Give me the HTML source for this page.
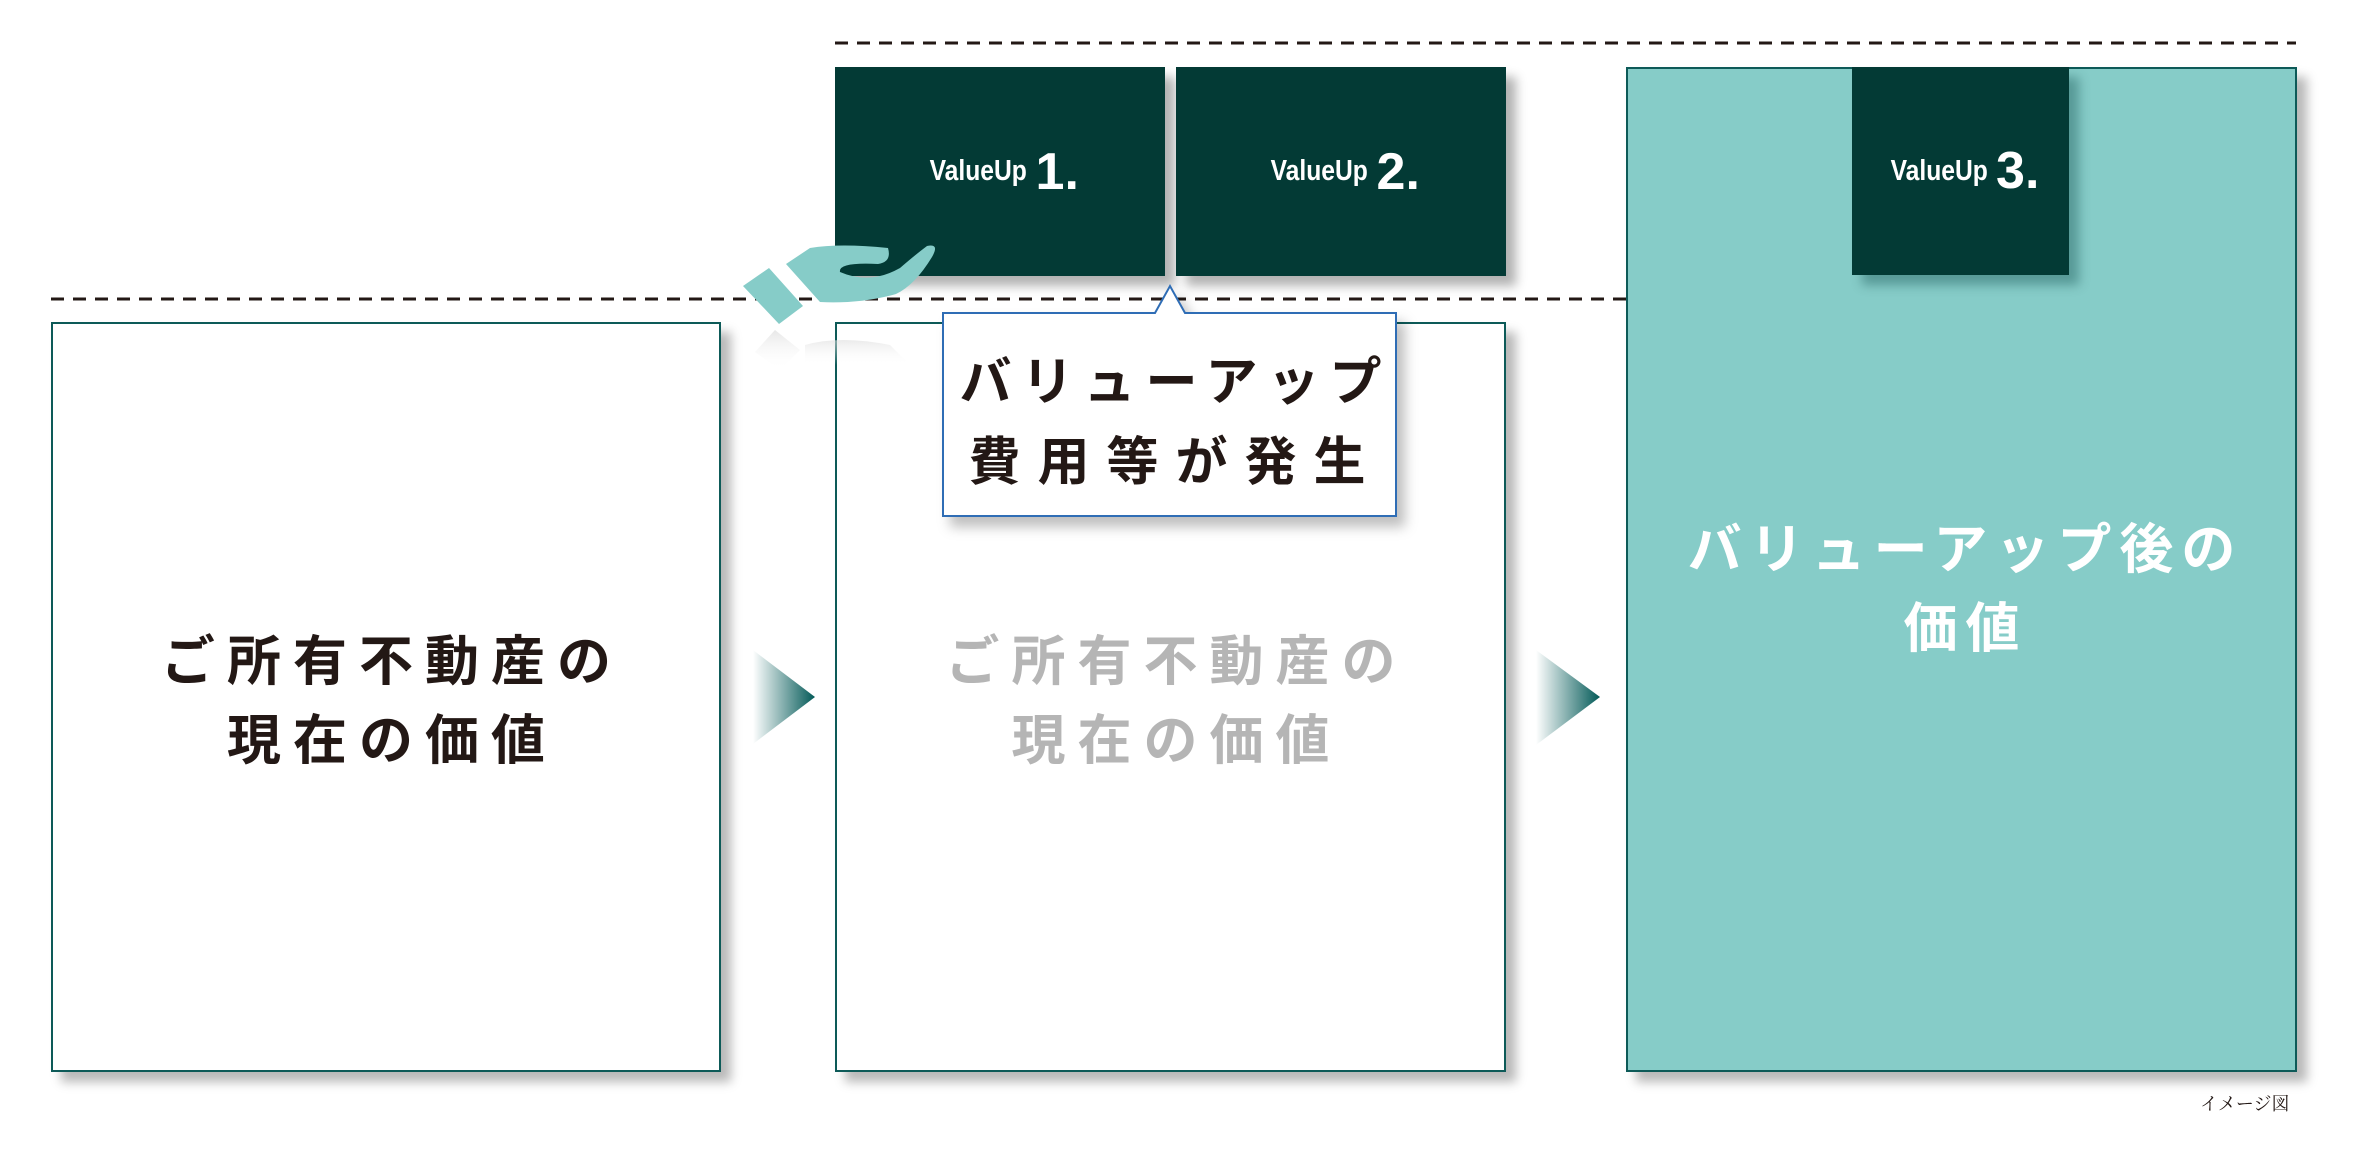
<!DOCTYPE html>
<html><head><meta charset="utf-8"><style>
body{margin:0;width:2360px;height:1151px;background:#fff;position:relative;overflow:hidden;font-family:"Liberation Sans","Noto Sans CJK JP",sans-serif}
.a{position:absolute;box-sizing:border-box}
.box{border:2px solid #0d5a58;background:#fff;box-shadow:10px 10px 10px rgba(0,0,0,0.28)}
.vu{background:#033a35;box-shadow:10px 10px 10px rgba(0,0,0,0.3);color:#fff;display:flex;align-items:center;justify-content:center}
.vu .s{font-size:29px;font-weight:bold;transform:scaleX(0.85);display:inline-block;margin-right:0px}
.vu .n{font-size:52px;font-weight:bold}
.t{position:absolute;text-align:center;font-weight:bold;font-family:"Noto Sans CJK JP",sans-serif;letter-spacing:12px;line-height:79px}
</style></head><body>

<div class="a box" style="left:51px;top:322px;width:670px;height:750px"></div>
<div class="t" style="left:51px;top:617px;width:682px;font-size:54px;color:#231815">ご所有不動産の<br>現在の価値</div>

<div class="a box" style="left:835px;top:322px;width:671px;height:750px"></div>
<div class="t" style="left:835px;top:617px;width:683px;font-size:54px;color:#b5b5b5">ご所有不動産の<br>現在の価値</div>

<div class="a box" style="left:1626px;top:67px;width:671px;height:1005px;background:#86ccc8"></div>
<div class="t" style="left:1626px;top:505px;width:679px;font-size:54px;color:#fff;letter-spacing:8px">バリューアップ後の<br>価値</div>

<div class="a vu" style="left:835px;top:67px;width:330px;height:209px"><span class="s">ValueUp</span><span class="n">1.</span></div>
<div class="a vu" style="left:1176px;top:67px;width:330px;height:209px"><span class="s">ValueUp</span><span class="n">2.</span></div>
<div class="a vu" style="left:1852px;top:67px;width:217px;height:208px;box-shadow:10px 10px 10px rgba(0,60,60,0.35)"><span class="s">ValueUp</span><span class="n">3.</span></div>

<svg class="a" style="left:0;top:0" width="2360" height="1151">
<defs>
<linearGradient id="g" x1="0" x2="1"><stop offset="0" stop-color="#035a58" stop-opacity="0"/><stop offset="1" stop-color="#035a58"/></linearGradient>
<linearGradient id="r" x1="0" y1="0" x2="0" y2="1"><stop offset="0" stop-color="#ddd"/><stop offset="1" stop-color="#fff" stop-opacity="0"/></linearGradient>
</defs>
<line x1="835" y1="43" x2="2296" y2="43" stroke="#231815" stroke-width="3" stroke-dasharray="13 9"/>
<line x1="51" y1="299" x2="1626" y2="299" stroke="#231815" stroke-width="3" stroke-dasharray="13 9"/>
<polygon points="753,650 815,697 753,744" fill="url(#g)"/>
<polygon points="1536,650 1600,697 1536,745" fill="url(#g)"/>
<!-- hand -->
<polygon points="743,286 769,268 803,306 779,324" fill="#86ccc8"/>
<path d="M786,264 L810,248 Q840,243 888,248 Q892,262 878,264 Q838,262 840,272 Q870,285 900,268 Q915,255 927,246 Q940,243 932,257 Q915,285 896,294 Q860,304 820,302 Z" fill="#86ccc8"/>
<polygon points="775,330 800,350 780,370 755,352" fill="url(#r)" opacity="0.7"/>
<path d="M805,345 Q840,335 890,345 L910,365 L805,365 Z" fill="url(#r)" opacity="0.6"/>
<!-- callout -->
<path d="M943,313 L1155,313 L1170,286 L1185,313 L1396,313 L1396,516 L943,516 Z" fill="#fff" stroke="#2f6db5" stroke-width="2" style="filter:drop-shadow(8px 10px 6px rgba(0,0,0,0.25))"/>
</svg>
<div class="t" style="left:943px;top:338px;width:465px;font-size:52px;color:#231815;line-height:80px;letter-spacing:10px">バリューアップ<br><span style="letter-spacing:17px">費用等が発生</span></div>

<div class="a" style="left:2200px;top:1090px;font-family:'Liberation Serif','Noto Serif CJK SC',serif;font-size:18px;color:#231815">イメージ図</div>
</body></html>
